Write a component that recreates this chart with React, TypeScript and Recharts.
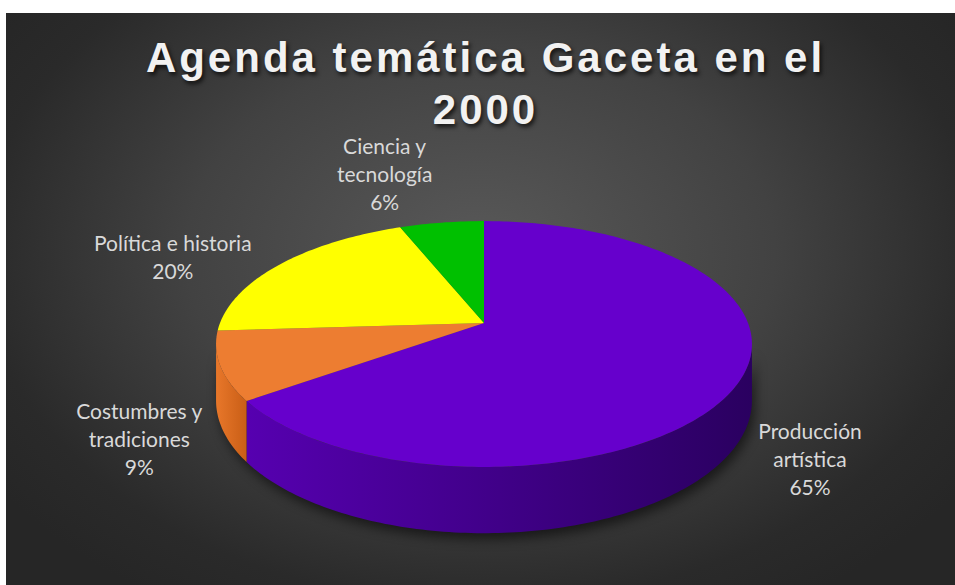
import React from "react";
import { PieChart, Pie, Cell } from "recharts";

const categories = ["Producción artística", "Costumbres y tradiciones", "Política e historia", "Ciencia y tecnología"];
const shares = [65, 9, 20, 6];
const labelLines = [["Producción", "artística"], ["Costumbres y", "tradiciones"], ["Política e historia"], ["Ciencia y", "tecnología"]];

const topColors = ["#6600cc", "#ed7d31", "#ffff00", "#00c000"];
const sideColors = [
  ["#5600b0", "#2a0060"],
  ["#e8772a", "#c95e16"],
  ["#e0e000", "#c8c800"],
  ["#00a800", "#008800"],
];
// label nudges relative to the slice's outer edge (px)
const labelOffsets = [
  [71, 17],
  [-81, 14],
  [-107, -8],
  [-57, -50],
];

const W = 949;
const H = 572;
const CX = 478;
const CY = 310;
const R = 264;

// simple perspective of a tilted disc
const U = 0.171;
const S = 0.452;
const DEPTH = 0.208;
// the silhouette's widest points sit slightly below the centre line
const EDGE = (Math.asin(U) * 180) / Math.PI;

function project(cx: number, cy: number, r: number, deg: number, drop = 0): [number, number] {
  const a = (deg * Math.PI) / 180;
  const c = Math.cos(a);
  const s = Math.sin(a);
  const k = 1 + U * s;
  return [cx + (r * c) / k, cy - (r * S * s) / k + (drop * r) / k];
}

function arc(cx: number, cy: number, r: number, a0: number, a1: number, drop = 0) {
  const n = Math.max(2, Math.ceil(Math.abs(a1 - a0)));
  const pts: string[] = [];
  for (let i = 0; i <= n; i++) {
    const [x, y] = project(cx, cy, r, a0 + ((a1 - a0) * i) / n, drop);
    pts.push(`${x.toFixed(2)},${y.toFixed(2)}`);
  }
  return pts;
}

const sliceIndex = (props: any) => {
  const name = props.name ?? props.payload?.name;
  const i = categories.indexOf(name);
  return i < 0 ? 0 : i;
};

const TopSlice = (props: any) => {
  const { cx, cy, outerRadius, startAngle, endAngle, fill } = props;
  const pts = arc(cx, cy, outerRadius, startAngle, endAngle);
  return <path d={`M${cx},${cy} L${pts.join(" L")} Z`} fill={fill} stroke="none" />;
};

const SideSlice = (props: any) => {
  const { cx, cy, outerRadius, startAngle, endAngle } = props;
  const i = sliceIndex(props);
  const lo = Math.max(Math.min(startAngle, endAngle), -180 + EDGE);
  const hi = Math.min(Math.max(startAngle, endAngle), -EDGE);

  let shadow = null;
  if (i === 0) {
    const st = arc(cx, cy, outerRadius, -180 + EDGE, -EDGE, 0);
    const sb = arc(cx, cy, outerRadius, -EDGE, -180 + EDGE, DEPTH);
    shadow = (
      <g>
        <defs>
          <filter id="pie-shadow" x="-10%" y="-30%" width="120%" height="160%">
            <feGaussianBlur stdDeviation="6" />
          </filter>
        </defs>
        <path
          d={`M${st.join(" L")} L${sb.join(" L")} Z`}
          transform="translate(3,6)"
          fill="#000"
          opacity={0.55}
          filter="url(#pie-shadow)"
        />
      </g>
    );
  }
  if (hi <= lo) return <g>{shadow}</g>;

  const top = arc(cx, cy, outerRadius, lo, hi);
  const bottom = arc(cx, cy, outerRadius, hi, lo, DEPTH);
  const id = `side-grad-${i}`;
  return (
    <g>
      {shadow}
      <defs>
        <linearGradient id={id} x1="0" y1="0" x2="1" y2="0">
          <stop offset="0%" stopColor={sideColors[i][0]} />
          <stop offset="100%" stopColor={sideColors[i][1]} />
        </linearGradient>
      </defs>
      <path d={`M${top.join(" L")} L${bottom.join(" L")} Z`} fill={`url(#${id})`} stroke="none" />
    </g>
  );
};

const renderLabel = (props: any) => {
  const { cx, cy, outerRadius, midAngle, percent } = props;
  const i = sliceIndex(props);
  const s = Math.sin((midAngle * Math.PI) / 180);
  const [ex, ey] = project(cx, cy, outerRadius, midAngle, s < 0 ? DEPTH : 0);
  const x = ex + labelOffsets[i][0];
  const lines = [...labelLines[i], `${Math.round(percent * 100)}%`];
  const lh = 28;
  const y0 = ey + labelOffsets[i][1] - ((lines.length - 1) * lh) / 2;
  return (
    <text x={x} y={y0} textAnchor="middle" dominantBaseline="central" fill="#d9d9d9" fontSize={21} fontFamily="Lato, 'Open Sans', sans-serif">
      {lines.map((l, j) => (
        <tspan key={j} x={x} y={y0 + j * lh}>
          {l}
        </tspan>
      ))}
    </text>
  );
};

export default function App() {
  const data = categories.map((name, i) => ({ name, value: shares[i] }));

  return (
    <div
      style={{
        position: "absolute",
        left: 6,
        top: 13,
        width: W,
        height: H,
        overflow: "hidden",
        background: "radial-gradient(ellipse 62% 72% at 50% 42%, #595959 0%, #424242 50%, #2a2a2a 85%, #262626 100%)",
      }}
    >
      <div style={{ position: "absolute", left: 0, top: 0 }}>
        <PieChart width={W} height={H} margin={{ top: 0, right: 0, bottom: 0, left: 0 }}>
          <Pie
            data={data}
            dataKey="value"
            nameKey="name"
            cx={CX}
            cy={CY}
            outerRadius={R}
            startAngle={90}
            endAngle={-270}
            stroke="none"
            shape={SideSlice}
            isAnimationActive={false}
            label={false}
            labelLine={false}
          >
            {data.map((d, i) => (
              <Cell key={d.name} fill={sideColors[i][1]} />
            ))}
          </Pie>
          <Pie
            data={data}
            dataKey="value"
            nameKey="name"
            cx={CX}
            cy={CY}
            outerRadius={R}
            startAngle={90}
            endAngle={-270}
            stroke="none"
            shape={TopSlice}
            isAnimationActive={false}
            label={renderLabel}
            labelLine={false}
          >
            {data.map((d, i) => (
              <Cell key={d.name} fill={topColors[i]} />
            ))}
          </Pie>
        </PieChart>
      </div>
      <div
        style={{
          position: "absolute",
          left: 0,
          top: 19,
          width: W,
          paddingLeft: 10,
          boxSizing: "border-box",
          textAlign: "center",
          color: "#f2f2f2",
          fontFamily: "'Liberation Sans', Arial, sans-serif",
          fontWeight: "bold",
          fontSize: 42,
          lineHeight: "52px",
          letterSpacing: 3,
          textShadow: "2px 3px 4px rgba(0,0,0,0.7)",
        }}
      >
        Agenda temática Gaceta en el
        <br />
        2000
      </div>
    </div>
  );
}
